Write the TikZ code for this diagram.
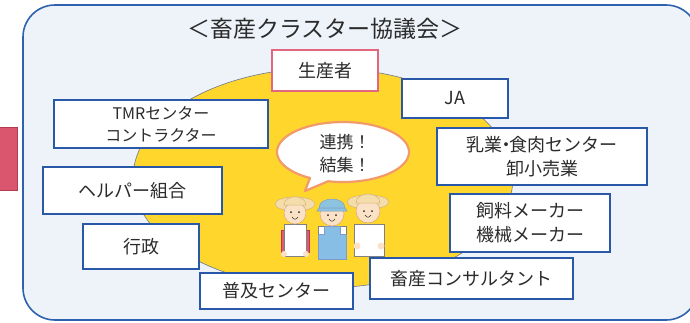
\documentclass[tikz,border=0pt]{standalone}
\usepackage{fontspec}
\newfontfamily\jp{Noto Sans CJK JP}
\definecolor{panelfill}{HTML}{EEF3FA}
\definecolor{panelline}{HTML}{2E62AE}
\definecolor{boxline}{HTML}{2A58A8}
\definecolor{pinkline}{HTML}{E2667E}
\definecolor{tabred}{HTML}{D9566E}
\definecolor{tabdark}{HTML}{B23A52}
\definecolor{sun}{HTML}{FFD62C}
\definecolor{sunline}{HTML}{6A7890}
\definecolor{bubbleline}{HTML}{F29A6A}
\definecolor{ink}{HTML}{2B2B2B}
\definecolor{skin}{HTML}{FBE2C6}
\definecolor{skinline}{HTML}{D8A680}
\definecolor{straw}{HTML}{F4DDAA}
\definecolor{strawline}{HTML}{D4B27A}
\definecolor{capblue}{HTML}{8CC3DF}
\definecolor{overall}{HTML}{86BEE6}
\definecolor{sleeve}{HTML}{E25A72}
\tikzset{
  member/.style={draw=boxline, line width=1.5pt, fill=white, inner sep=0pt,
    align=center, text=ink, font=\jp\fontsize{18}{24}\selectfont},
  figline/.style={line width=0.5pt},
}
\begin{document}
\begin{tikzpicture}[x=1pt,y=-1pt]
\useasboundingbox (0,0) rectangle (690,322);

% side tab and council panel
\draw[fill=tabred, draw=tabdark, line width=0.8pt] (-2,127) rectangle (17,190);
\draw[fill=panelfill, draw=panelline, line width=1.6pt, rounded corners=32pt]
  (23,5) rectangle (698,320);

% title
\node[text=ink, font=\jp\fontsize{23}{28}\selectfont] (title) at (325,29)
  {＜畜産クラスター協議会＞};

% central field
\draw[fill=sun, draw=sunline, line width=0.6pt] (323,178) ellipse [x radius=190, y radius=110];

% speech bubble
\draw[fill=white, draw=bubbleline, line width=2.2pt, line join=round]
  (305,191) -- (310,178) arc[start angle=120, end angle=463, x radius=66, y radius=30] -- cycle;
\node[text=ink, align=center, font=\jp\fontsize{17}{23}\selectfont] (slogan) at (345,154)
  {連携！\\結集！};

% --- three farmers ---
% left farmer: straw hat, white shirt, red sleeves
\draw[figline, fill=sleeve, draw=tabdark] (281,230) rectangle (287,252);
\draw[figline, fill=sleeve, draw=tabdark] (303,230) rectangle (309,252);
\draw[figline, fill=white, draw=gray] (284,224) rectangle (306,256);
\fill[skin] (284,254) circle (3) (306,254) circle (3);
\draw[figline, fill=straw, draw=strawline] (295,204) ellipse [x radius=20, y radius=7];
\draw[figline, fill=skin, draw=skinline] (295,213) circle (11);
\draw[figline, fill=straw, draw=strawline] (284,205) .. controls (284,194) and (306,194) .. (306,205) -- cycle;
\fill[ink] (291,212) circle (1) (299,212) circle (1);
\draw[figline, draw=ink] (292,217) .. controls (294,220) and (296,220) .. (298,217);

% middle farmer: blue cap, blue overalls
\draw[figline, fill=white, draw=gray] (318,226) rectangle (346,240);
\draw[figline, fill=overall, draw=boxline!60] (318,234) -- (324,234) -- (324,226) -- (340,226) -- (340,234) -- (346,234) -- (346,259) -- (318,259) -- cycle;
\draw[figline, fill=skin, draw=skinline] (332,214) circle (12);
\draw[figline, fill=capblue, draw=boxline!60] (319,208) .. controls (319,196) and (345,196) .. (345,208) -- cycle;
\draw[figline, fill=capblue, draw=boxline!60] (319,208) -- (345,208) -- (347,211) -- (317,211) -- cycle;
\fill[ink] (328,215) circle (1) (336,215) circle (1);
\draw[figline, draw=ink] (329,219) .. controls (331,222) and (333,222) .. (335,219);

% right farmer: straw hat, white shirt
\draw[figline, fill=white, draw=gray] (354,224) rectangle (384,256);
\fill[skin] (357,246) circle (3.5) (381,246) circle (3.5);
\draw[figline, fill=straw, draw=strawline] (368,202) ellipse [x radius=21, y radius=7];
\draw[figline, fill=skin, draw=skinline] (368,211) circle (12);
\draw[figline, fill=straw, draw=strawline] (356,203) .. controls (356,191) and (380,191) .. (380,203) -- cycle;
\fill[ink] (364,211) circle (1) (372,211) circle (1);
\draw[figline, draw=ink] (365,215) .. controls (367,218) and (369,218) .. (371,215);

% --- council members ---
\node[member, draw=pinkline, minimum width=106, minimum height=41] (producer) at (325,70.5) {生産者};
\node[member, minimum width=106, minimum height=39] (ja) at (455,98.5) {JA};
\node[member, minimum width=214, minimum height=48, font=\jp\fontsize{16}{22}\selectfont] (tmr) at (161,124)
  {TMRセンター\\コントラクター};
\node[member, minimum width=210, minimum height=57] (dairy) at (542,156.5)
  {乳業\hspace{-0.3em}・\hspace{-0.3em}食肉センター\\卸小売業};
\node[member, minimum width=179, minimum height=47] (helper) at (132.5,190.5) {ヘルパー組合};
\node[member, minimum width=160, minimum height=58] (feed) at (530,223)
  {飼料メーカー\\機械メーカー};
\node[member, minimum width=116, minimum height=45] (admin) at (141,246.5) {行政};
\node[member, minimum width=203, minimum height=41] (consult) at (471.5,278.5) {畜産コンサルタント};
\node[member, minimum width=153, minimum height=36] (extension) at (276.5,291) {普及センター};
\end{tikzpicture}
\end{document}
